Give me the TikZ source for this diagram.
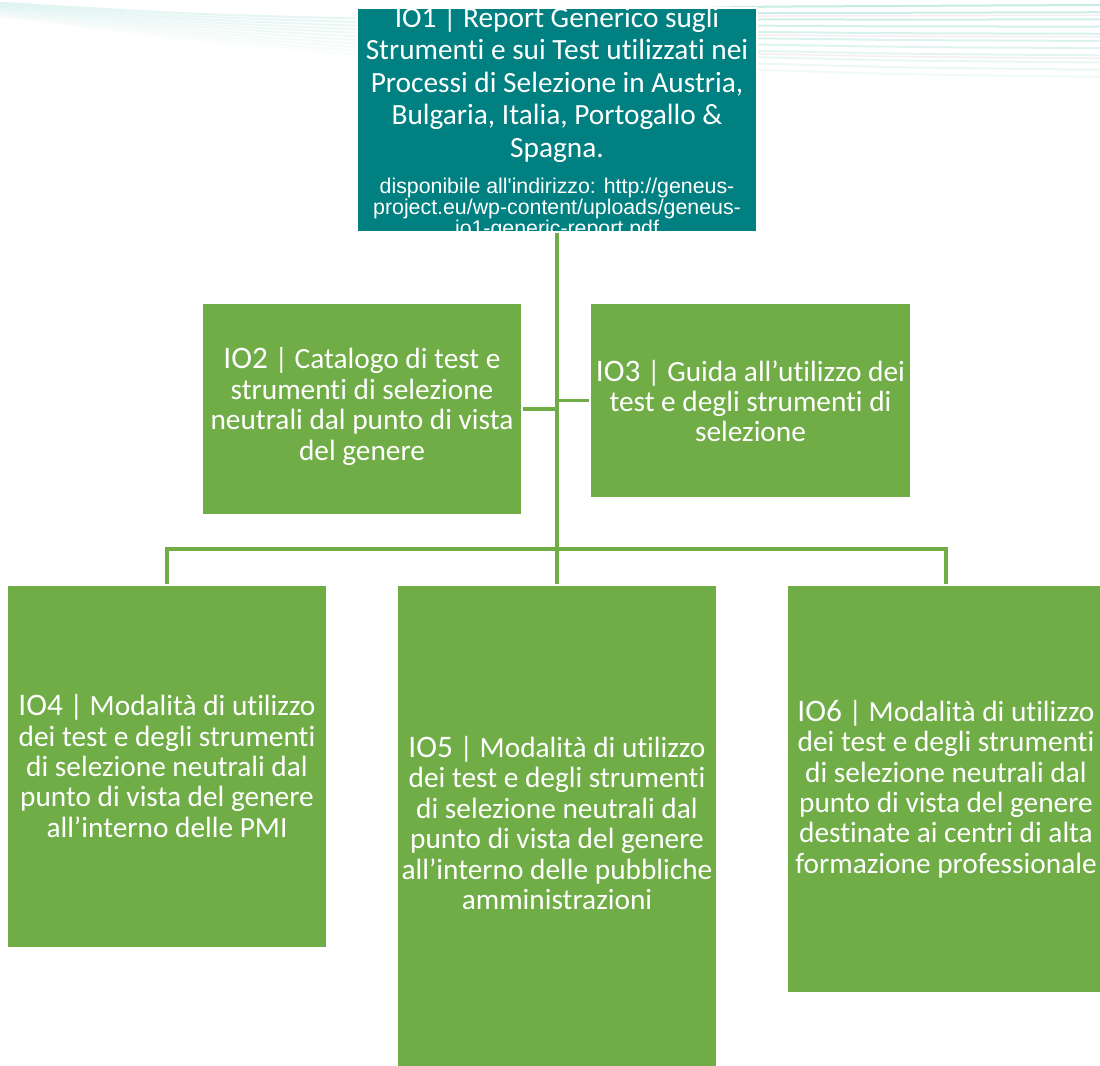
\documentclass[tikz,border=0pt]{standalone}
\usepackage{fontspec}
\setmainfont[Ligatures={NoCommon}]{Carlito}
\newfontfamily\arialfont{Liberation Sans}
\definecolor{tealbox}{RGB}{0,128,128}
\definecolor{greenbox}{RGB}{112,173,71}
\definecolor{wave}{RGB}{196,236,229}
\definecolor{wavepink}{RGB}{240,226,233}
\newcommand\iolbl{\fontsize{23.5}{22.8}\selectfont}
\tikzset{
  gbox/.style={rectangle, fill=greenbox, draw=white, line width=1pt, inner sep=0pt},
  gtext/.style={text=white, align=center, inner sep=0pt, font=\fontsize{22}{22.8}\selectfont},
  tbox/.style={rectangle, fill=tealbox, draw=white, line width=1pt, inner sep=0pt},
  conn/.style={draw=greenbox, line width=2.5pt},
  wline/.style={line width=1.5pt, draw=wave},
}
\begin{document}
\begin{tikzpicture}[x=0.75pt,y=-0.75pt]
\useasboundingbox (0,0) rectangle (1100,1066);
\fill[white] (0,0) rectangle (1100,1066);
% background waves
\foreach \k in {0,...,10} {
  \pgfmathsetmacro{\opl}{0.45-0.035*\k}
  \pgfmathsetmacro{\opr}{0.95-0.07*\k}
  \draw[wline, opacity=\opl] plot[smooth] coordinates {(-10,{2+1.3*\k}) (200,{14+2.6*\k}) (420,{20+4*\k})};
  \draw[wline, opacity=\opr] plot[smooth] coordinates {(420,{20+4*\k}) (700,{8+6*\k}) (900,{6+6.8*\k}) (1110,{5+7.2*\k})};
}
\foreach \k in {1,4,7} {
  \draw[line width=1.1pt, draw=wavepink, opacity=0.6] plot[smooth] coordinates {(420,{23+4*\k}) (700,{11+6*\k}) (900,{9+6.8*\k}) (1110,{8+7.2*\k})};
}
% IO1
\node[tbox, minimum width=400*0.75pt, minimum height=224*0.75pt] (io1) at (557,120) {};
\begin{scope}
  \clip (io1.north west) rectangle (io1.south east);
  \node[text=white, align=center, inner sep=0pt, font=\fontsize{22}{24.4}\selectfont] (io1t) at (557,84)
    {IO1 | Report Generico sugli\\Strumenti e sui Test utilizzati nei\\Processi di Selezione in Austria,\\Bulgaria, Italia, Portogallo \&\\Spagna.};
  \node[text=white, align=center, inner sep=0pt, font=\arialfont\fontsize{16}{15.4}\selectfont] (io1u) at (557,209)
    {disponibile all'indirizzo: http://geneus-\\project.eu/wp-content/uploads/geneus-\\io1-generic-report.pdf};
\end{scope}
\draw[white, line width=1pt] (io1.north west) rectangle (io1.south east);
% IO2, IO3
\node[gbox, minimum width=320*0.75pt, minimum height=212*0.75pt] (io2) at (362,409) {};
\node[gtext] (io2t) at (362,406.5)
  {{\iolbl IO2} | Catalogo di test e\\strumenti di selezione\\neutrali dal punto di vista\\del genere};
\node[gbox, minimum width=321*0.75pt, minimum height=195*0.75pt] (io3) at (750.5,400.5) {};
\node[gtext] (io3t) at (750.5,401)
  {{\iolbl IO3} | Guida all’utilizzo dei\\test e degli strumenti di\\selezione};
% IO4, IO5, IO6
\node[gbox, minimum width=319*0.75pt, minimum height=363*0.75pt] (io4) at (167,766.5) {};
\node[gtext] (io4t) at (167,766)
  {{\iolbl IO4} | Modalità di utilizzo\\dei test e degli strumenti\\di selezione neutrali dal\\punto di vista del genere\\all’interno delle PMI};
\node[gbox, minimum width=319*0.75pt, minimum height=500*0.75pt] (io5) at (557,835) {};
\node[gtext] (io5t) at (557,823)
  {{\iolbl IO5} | Modalità di utilizzo\\dei test e degli strumenti\\di selezione neutrali dal\\punto di vista del genere\\all’interno delle pubbliche\\amministrazioni};
\node[gbox, minimum width=318*0.75pt, minimum height=408*0.75pt] (io6) at (946,789) {};
\node[gtext] (io6t) at (946,789)
  {{\iolbl IO6} | Modalità di utilizzo\\dei test e degli strumenti\\di selezione neutrali dal\\punto di vista del genere\\destinate ai centri di alta\\formazione professionale};
% connectors
\coordinate (bar) at (557,549);
\draw[conn] (io1.south) -- (io5.north);
\draw[conn] (io2.east) -- (io2.east -| io1.south);
\draw[conn] (io3.west) -- (io3.west -| io1.south);
\draw[conn] (io4.north) -- (io4.north |- bar) -- (io6.north |- bar) -- (io6.north);
\end{tikzpicture}
\end{document}
